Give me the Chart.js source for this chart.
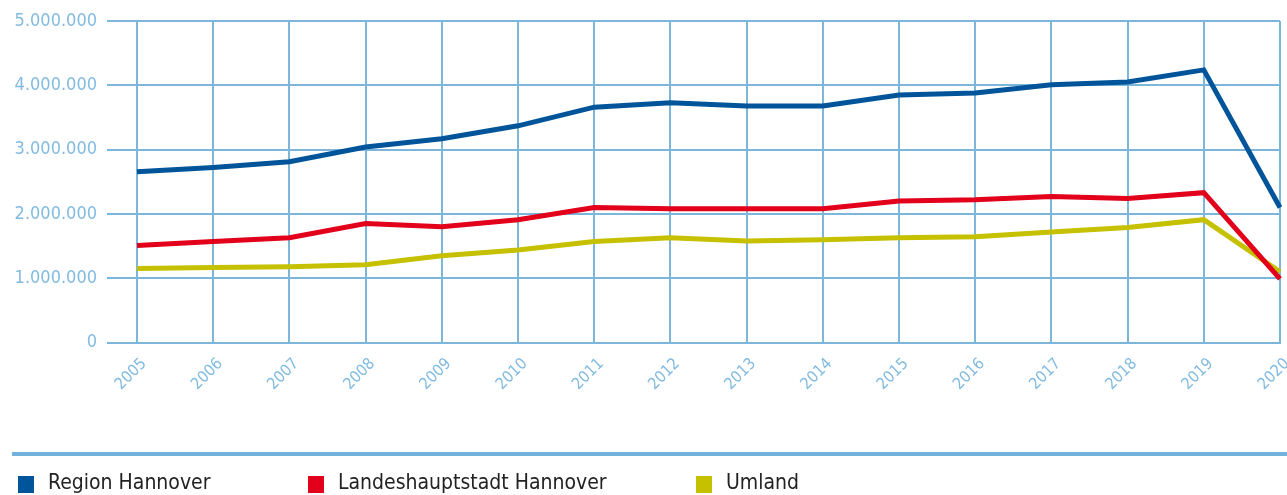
<!DOCTYPE html>
<html>
<head>
<meta charset="utf-8">
<script src="https://cdn.jsdelivr.net/npm/chart.js@4"></script>
<style>
  html, body { margin: 0; padding: 0; background: #fff; }
  #wrap { position: relative; width: 1287px; height: 495px; overflow: hidden; }
  #chart { position: absolute; left: 0; top: 0; }
  #linie { position: absolute; left: 12px; top: 452px; width: 1275px; height: 4px; background: #72b1d9; }
  .eintrag { position: absolute; top: 470px; font-family: "Liberation Sans Narrow", "DejaVu Sans Condensed", sans-serif; font-size: 21px; color: #222; white-space: nowrap; }
  .eintrag span.box { position: absolute; left: 0; top: 6px; width: 16px; height: 17px; }
  .eintrag span.txt { position: absolute; left: 30px; top: 0; }
</style>
</head>
<body>
<div id="wrap">
  <canvas id="chart" width="1287" height="495"></canvas>
  <div id="linie"></div>
  <div id="legende"></div>
</div>
<script>
const jahre = ['2005','2006','2007','2008','2009','2010','2011','2012','2013','2014','2015','2016','2017','2018','2019','2020'];

const regionHannover = [2655000, 2720000, 2810000, 3040000, 3170000, 3370000, 3660000, 3730000, 3680000, 3680000, 3850000, 3880000, 4010000, 4050000, 4240000, 2100000];
const landeshauptstadt = [1510000, 1570000, 1630000, 1850000, 1800000, 1910000, 2100000, 2080000, 2080000, 2080000, 2200000, 2220000, 2270000, 2240000, 2330000, 990000];
const umland = [1150000, 1165000, 1180000, 1210000, 1350000, 1440000, 1570000, 1630000, 1580000, 1600000, 1630000, 1645000, 1720000, 1790000, 1910000, 1100000];

const serien = [
    { name: 'Region Hannover', werte: regionHannover, farbe: '#00559a' },
    { name: 'Landeshauptstadt Hannover', werte: landeshauptstadt, farbe: '#e3001b' },
    { name: 'Umland', werte: umland, farbe: '#c5c100' }
];
const legendeX = [18, 308, 696];

const gitterFarbe = '#7db6db';
const schrift = '"Liberation Sans Narrow", "DejaVu Sans Condensed", sans-serif';

function punktFormat(v) {
    return String(v).replace(/\B(?=(\d{3})+(?!\d))/g, '.');
}

// eigene Legende unten
const legende = document.getElementById('legende');
serien.forEach((s, i) => {
    const d = document.createElement('div');
    d.className = 'eintrag';
    d.style.left = legendeX[i] + 'px';
    d.innerHTML = '<span class="box" style="background:' + s.farbe + '"></span><span class="txt">' + s.name + '</span>';
    legende.appendChild(d);
});

new Chart(document.getElementById('chart'), {
    type: 'line',
    data: {
        labels: jahre,
        datasets: serien.map(s => ({
            label: s.name,
            data: s.werte,
            borderColor: s.farbe,
            backgroundColor: s.farbe,
            borderWidth: 5,
            pointRadius: 0,
            tension: 0,
            fill: false
        }))
    },
    options: {
        responsive: false,
        animation: false,
        layout: { padding: { top: 21, right: 7, bottom: 89, left: 0 } },
        plugins: {
            legend: { display: false },
            tooltip: { enabled: false }
        },
        scales: {
            x: {
                offset: false,
                grid: { color: gitterFarbe, lineWidth: 2, drawTicks: false },
                border: { color: gitterFarbe, width: 2 },
                afterFit: scale => { scale.paddingRight = 0; scale.paddingLeft = 0; },
                ticks: {
                    color: '#82bbe0',
                    font: { family: schrift, size: 16 },
                    maxRotation: 45,
                    minRotation: 45,
                    padding: 12,
                    labelOffset: 7,
                    autoSkip: false
                }
            },
            y: {
                min: 0,
                max: 5000000,
                grid: { color: gitterFarbe, lineWidth: 2, tickLength: 30 },
                border: { display: false },
                afterFit: scale => { scale.width = 137; },
                ticks: {
                    stepSize: 1000000,
                    color: '#82bbe0',
                    font: { family: schrift, size: 18 },
                    padding: 10,
                    callback: v => punktFormat(v)
                }
            }
        }
    }
});
</script>
</body>
</html>
